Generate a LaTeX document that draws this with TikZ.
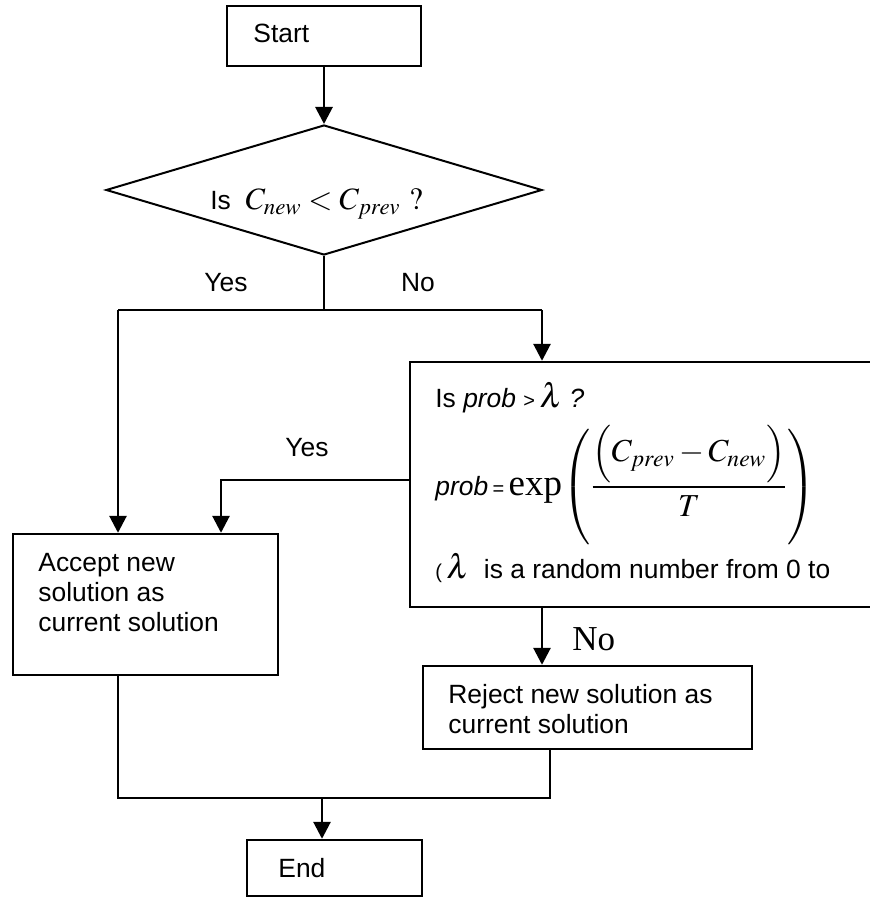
\documentclass[tikz,border=0pt]{standalone}
\usepackage{amsmath}
\usepackage{mathptmx}
\usepackage[no-math]{fontspec}
\setmainfont{Liberation Sans}
\newfontfamily\timesfont{Liberation Serif}
\usetikzlibrary{arrows.meta,positioning,shapes}

\begin{document}
\begin{tikzpicture}[x=0.5pt,y=-0.5pt,
  caja/.style={draw,line width=1.2pt,inner sep=0pt},
  rombo/.style={draw,diamond,line width=1pt,inner sep=0pt,aspect=3.35,minimum width=218pt,minimum height=65pt},
  texto/.style={inner sep=0pt,align=left,font=\fontsize{13.2}{15}\selectfont},
  flecha/.style={line width=1.4pt,-{Triangle[length=8.5pt,width=8.5pt]}},
  linea/.style={line width=1.4pt}]
  \useasboundingbox (0,0) rectangle (870,898);

  % Dibujamos las cajas y el rombo
  \node[caja,minimum width=97pt,minimum height=30pt] (start) at (324,36) {};
  \node[rombo] (decide) at (324,190) {};
  \node[caja,minimum width=245pt,minimum height=122.5pt] (test) at (655,484.5) {};
  \node[caja,minimum width=132.5pt,minimum height=70.5pt] (accept) at (145.5,604.5) {};
  \node[caja,minimum width=164.5pt,minimum height=41.5pt] (reject) at (587.5,707.5) {};
  \node[caja,minimum width=87.5pt,minimum height=28pt] (finish) at (334.5,868) {};

  % Textos de cada caja
  \node[texto,anchor=base west] (starttxt) at (253,43) {Start};
  \node[texto,anchor=base west] (decidetxt) at (210,210)
    {Is \ {\fontsize{15.5}{15}\selectfont$C_{new}<C_{prev}\ ?$}};
  \node[texto,anchor=north west] (accepttxt) at (38,553) {Accept new\\solution as\\current solution};
  \node[texto,anchor=north west] (rejecttxt) at (448,684) {Reject new solution as\\current solution};
  \node[texto,anchor=base west] (finishtxt) at (278,877) {End};
  \node[texto,anchor=base west] (q1) at (435,407)
    {Is \textit{prob} {\fontsize{10}{10}\selectfont>}\,{\fontsize{17}{17}\selectfont$\lambda$}\ \textit{?}};
  \node[texto,anchor=base west] (q2) at (435,495)
    {\textit{prob}\,{\fontsize{10}{10}\selectfont=}\,{\fontsize{16}{16}\selectfont$\mbox{\fontsize{18.5}{18}\timesfont exp}\!\left(\dfrac{\Bigl(C_{prev}-C_{new}\Bigr)}{T}\right)$}};
  \node[texto,anchor=base west] (q3) at (435,578)
    {{\fontsize{10}{10}\selectfont(}\,{\fontsize{17}{17}\selectfont$\lambda$}\ \ is a random number from 0 to};

  % Etiquetas de las ramas
  \node[texto] (yes1) at (226,283) {Yes};
  \node[texto] (no1) at (418,283) {No};
  \node[texto] (yes2) at (307,448) {Yes};
  \node[texto,anchor=base west,font=\timesfont\fontsize{17.5}{18}\selectfont] (no2) at (572,650) {No};

  % Puntos de giro de las lineas
  \coordinate (split) at (324,310);
  \coordinate (yesL) at (118,310);
  \coordinate (noR) at (542,310);
  \coordinate (yesB) at (221,480);
  \coordinate (mergeL) at (118,798);
  \coordinate (mergeM) at (322,798);
  \coordinate (mergeR) at (550,798);

  % Conectores
  \draw[flecha] (start.south) -- (decide.north);
  \draw[linea] (decide.south) -- (split);
  \draw[linea] (yesL) -- (noR);
  \draw[flecha] (yesL) -- (yesL |- accept.north);
  \draw[flecha] (noR) -- (noR |- test.north);
  \draw[flecha] (test.west |- yesB) -| (yesB |- accept.north);
  \draw[flecha] (noR |- test.south) -- (noR |- reject.north);
  \draw[linea] (accept.south -| mergeL) -- (mergeL) -- (mergeR) -- (mergeR |- reject.south);
  \draw[flecha] (mergeM) -- (mergeM |- finish.north);
\end{tikzpicture}
\end{document}
